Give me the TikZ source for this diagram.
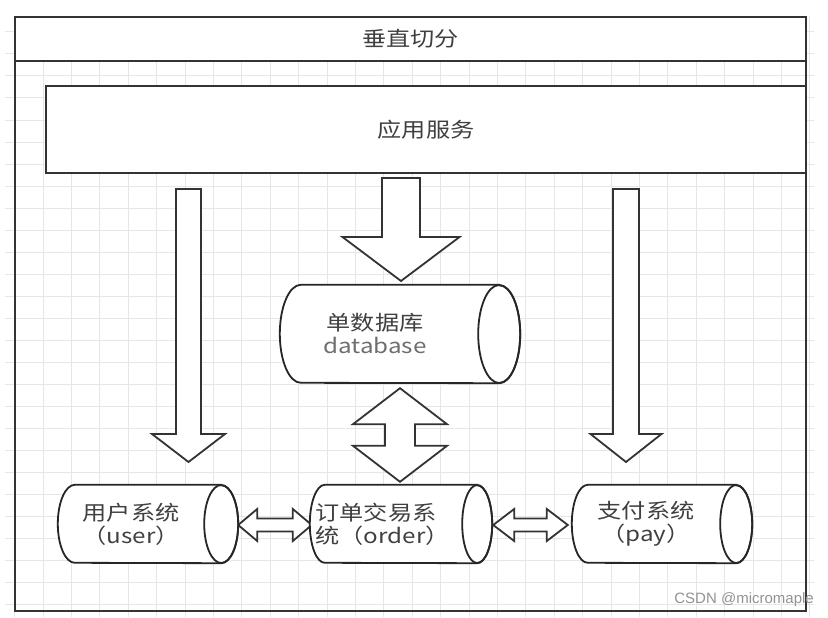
\documentclass[tikz,border=0pt]{standalone}
\usepackage{fontspec}
\setmainfont{Noto Sans CJK SC}[FakeStretch=1.18]
\newfontfamily\wmfont{Liberation Sans}
\usetikzlibrary{calc}
\definecolor{gridc}{HTML}{E6E6E6}
\definecolor{linec}{HTML}{333333}
\definecolor{txtc}{HTML}{404040}
\definecolor{txtl}{HTML}{6E6E6E}
\tikzset{
  gridline/.style={draw=gridc, line width=1pt},
  framebox/.style={draw=linec, line width=2.2pt, rectangle, inner sep=0pt},
  blk/.style={draw=linec, fill=white, line width=1.8pt, line join=miter},
  cylline/.style={draw=black!85, fill=white, line width=1.8pt},
  lbl/.style={text=txtc, font=\fontsize{20.5}{23}\selectfont, align=center, inner sep=0pt},
  cylnode/.style={rectangle, inner sep=0pt, draw=none},
}
% horizontal cylinder outline around a rectangle node: #1 name, #2 x radius, #3 y radius
\newcommand\cylbody[3]{%
  \draw[cylline] ($(#1.north east)+(-#2,0)$) -- ($(#1.north west)+(#2,0)$)
    arc[start angle=90,end angle=270,x radius=#2pt,y radius=#3pt]
    -- ($(#1.south east)+(-#2,0)$)
    arc[start angle=-90,end angle=90,x radius=#2pt,y radius=#3pt] -- cycle;
  \draw[cylline, fill=none] ($(#1.east)+(-#2,0)$) ellipse[x radius=#2pt, y radius=#3pt];}
% block arrow pointing down: #1 start, #2 tip, #3 shaft half width, #4 head half width, #5 head length
\newcommand\blockdown[5]{%
  \draw[blk] ($(#1)+(-#3,0)$) -- ($(#1)+(#3,0)$) -- ($(#2)+(#3,-#5)$) -- ($(#2)+(#4,-#5)$)
    -- (#2) -- ($(#2)+(-#4,-#5)$) -- ($(#2)+(-#3,-#5)$) -- cycle;}
% vertical double block arrow: #1 top tip, #2 bottom tip
\newcommand\vdouble[5]{%
  \draw[blk] (#1) -- ($(#1)+(#4,#5)$) -- ($(#1)+(#3,#5)$) -- ($(#2)+(#3,-#5)$) -- ($(#2)+(#4,-#5)$)
    -- (#2) -- ($(#2)+(-#4,-#5)$) -- ($(#2)+(-#3,-#5)$) -- ($(#1)+(-#3,#5)$) -- ($(#1)+(-#4,#5)$) -- cycle;}
% horizontal double block arrow: #1 left tip, #2 right tip
\newcommand\hdouble[5]{%
  \draw[blk] (#1) -- ($(#1)+(#5,-#4)$) -- ($(#1)+(#5,-#3)$) -- ($(#2)+(-#5,-#3)$) -- ($(#2)+(-#5,-#4)$)
    -- (#2) -- ($(#2)+(-#5,#4)$) -- ($(#2)+(-#5,#3)$) -- ($(#1)+(#5,#3)$) -- ($(#1)+(#5,#4)$) -- cycle;}
\begin{document}
\begin{tikzpicture}[x=1pt,y=-1pt]
\useasboundingbox (0,0) rectangle (828,618);
\fill[white] (0,0) rectangle (828,618);
% grid
\begin{scope}
  \clip (5,17) rectangle (814,616);
  \foreach \i in {0,...,28} \draw[gridline] ({14.6+28.4*\i},0) -- ({14.6+28.4*\i},618);
  \foreach \j in {0,...,28} \draw[gridline] (0,{10+22*\j}) -- (828,{10+22*\j});
\end{scope}
% frame
\node[framebox, minimum width=791pt, minimum height=594pt] (outer) at (410.5,314) {};
\node[framebox, fill=white, minimum width=791pt, minimum height=44pt, lbl] (title) at (410.5,39) {垂直切分};
\node[framebox, fill=white, minimum width=760pt, minimum height=87pt, lbl] (app) at (426,129.5) {应用服务};
% cylinders
\node[cylnode, minimum width=240pt, minimum height=98pt] (db) at (400,334) {};
\node[cylnode, minimum width=180pt, minimum height=78pt] (user) at (148,524) {};
\node[cylnode, minimum width=182pt, minimum height=78pt] (order) at (401,524) {};
\node[cylnode, minimum width=180pt, minimum height=78pt] (pay) at (662,524) {};
% arrow end points
\coordinate (la) at (188.5,189);
\coordinate (lt) at (188.5,462);
\coordinate (ma) at (401,178);
\coordinate (mt) at (401,281);
\coordinate (ra) at (626,189);
\coordinate (rt) at (626,462);
\coordinate (vt) at ($(db.south)+(0,5)$);
\coordinate (vb) at ($(db.south |- order.north)+(0,-3)$);
\coordinate (h1l) at ($(user.east)+(0,1)$);
\coordinate (h1r) at ($(order.west)+(2,1)$);
\coordinate (h2l) at ($(order.east)+(1,1)$);
\coordinate (h2r) at ($(pay.west)+(-4,1)$);
% arrows
\blockdown{la}{lt}{12.5}{36.5}{28}
\blockdown{ma}{mt}{19}{58.5}{44}
\blockdown{ra}{rt}{13}{35.5}{28}
\vdouble{vt}{vb}{15}{47}{36}
\hdouble{h1l}{h1r}{6.5}{16}{19}
\hdouble{h2l}{h2r}{6.5}{16}{21}
% cylinder outlines
\cylbody{db}{21}{49}
\cylbody{user}{17}{39}
\cylbody{order}{15}{39}
\cylbody{pay}{16}{39}
% labels
\node[lbl] (dbt) at ($(db.center)+(-25,0)$) {单数据库\\\textcolor{txtl}{database}};
\node[lbl] (usert) at ($(user.center)+(-17,0)$) {用户系统\\（user）};
\node[lbl, align=left] (ordert) at (382.5,524) {订单交易系\\统（order）};
\node[lbl] (payt) at ($(pay.center)+(-16,0)$) {支付系统\\（pay）};
\node[text=gray!85, font=\wmfont\fontsize{15}{15}\selectfont, anchor=east, inner sep=0pt] (wm) at (814,600) {CSDN @micromaple};
\end{tikzpicture}
\end{document}
